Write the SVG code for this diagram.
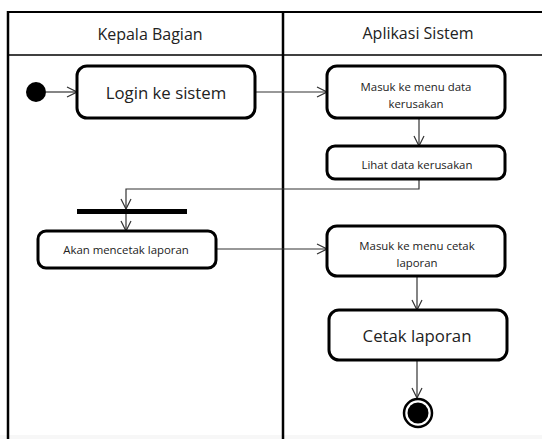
<svg xmlns="http://www.w3.org/2000/svg" width="542" height="439" viewBox="0 0 542 439">
  <style>
    .lane { stroke: #000; fill: none; }
    .act { fill: #fff; stroke: #000; stroke-width: 3; }
    .flow { stroke: #333; stroke-width: 1.2; fill: none; marker-end: url(#open); }
    .t { font-family: "Open Sans", "DejaVu Sans", sans-serif; fill: #222; text-anchor: middle; dominant-baseline: central; }
    .big { font-size: 16.8px; }
    .small { font-size: 11.4px; }
    .head { font-size: 16px; }
  </style>
  <defs>
    <marker id="open" viewBox="0 0 12 12" refX="11" refY="6" markerWidth="12" markerHeight="12" markerUnits="userSpaceOnUse" orient="auto">
      <path d="M1,1 L11,6 L1,11" fill="none" stroke="#333" stroke-width="1.2"/>
    </marker>
  </defs>

  <rect width="542" height="439" fill="#fff"/>
  <rect x="0" y="435" width="542" height="4" fill="#f7f7f7"/>

  <!-- swimlanes -->
  <g id="lanes">
    <line class="lane" x1="8" y1="12" x2="542" y2="12" stroke-width="2"/>
    <line class="lane" x1="8" y1="55" x2="542" y2="55" stroke-width="1.5"/>
    <line class="lane" x1="8" y1="11" x2="8" y2="439" stroke-width="2.5"/>
    <line class="lane" x1="283" y1="11" x2="283" y2="439" stroke-width="2.5"/>
    <text class="t head" x="150" y="34">Kepala Bagian</text>
    <text class="t head" x="418" y="33">Aplikasi Sistem</text>
  </g>

  <!-- connectors -->
  <g id="connectors">
    <line class="flow" x1="46" y1="92" x2="77" y2="92"/>
    <line class="flow" x1="255" y1="92" x2="327" y2="92"/>
    <line class="flow" x1="419" y1="118" x2="419" y2="146"/>
    <polyline class="flow" points="419,179 419,189 126,189 126,209"/>
    <line class="flow" x1="126" y1="214" x2="126" y2="231"/>
    <line class="flow" x1="216" y1="249" x2="327" y2="249"/>
    <line class="flow" x1="417" y1="276" x2="417" y2="310"/>
    <line class="flow" x1="417" y1="360" x2="417" y2="398"/>
  </g>

  <g id="start">
    <circle cx="36" cy="92" r="10" fill="#000"/>
  </g>

  <g id="login">
    <rect class="act" x="77" y="66" width="178" height="52" rx="10"/>
    <text class="t big" x="166" y="92">Login ke sistem</text>
  </g>

  <g id="menu-data">
    <rect class="act" x="327" y="66" width="178" height="52" rx="10"/>
    <text class="t small" x="416" y="86">Masuk ke menu data</text>
    <text class="t small" x="416" y="103">kerusakan</text>
  </g>

  <g id="lihat-data">
    <rect class="act" x="327" y="146" width="178" height="33" rx="8"/>
    <text class="t small" x="417" y="164">Lihat data kerusakan</text>
  </g>

  <g id="fork">
    <rect x="77" y="209" width="110" height="5" fill="#000"/>
  </g>

  <g id="mencetak">
    <rect class="act" x="38" y="231" width="178" height="37" rx="8"/>
    <text class="t small" x="126" y="249">Akan mencetak laporan</text>
  </g>

  <g id="menu-cetak">
    <rect class="act" x="327" y="226" width="178" height="50" rx="10"/>
    <text class="t small" x="417" y="245">Masuk ke menu cetak</text>
    <text class="t small" x="417" y="262">laporan</text>
  </g>

  <g id="cetak">
    <rect class="act" x="329" y="310" width="178" height="50" rx="10"/>
    <text class="t big" x="417" y="335">Cetak laporan</text>
  </g>

  <g id="end">
    <circle cx="418" cy="413" r="14" fill="#fff" stroke="#000" stroke-width="2.5"/>
    <circle cx="418" cy="413" r="10.5" fill="#000"/>
  </g>
</svg>
